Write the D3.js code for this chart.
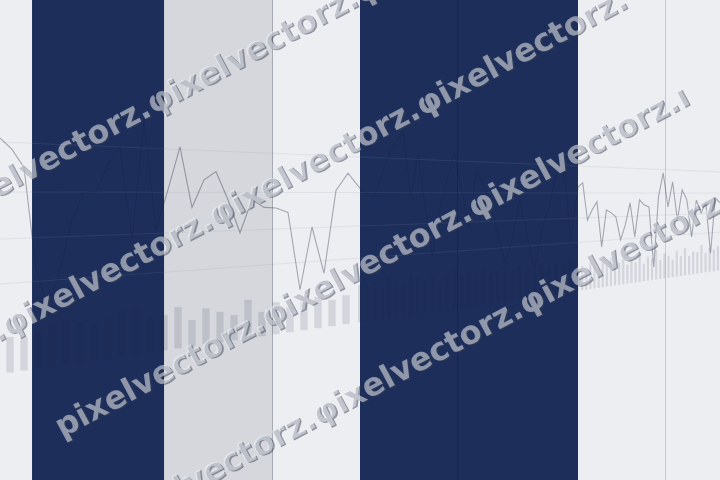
<!DOCTYPE html>
<html>
<head>
<meta charset="utf-8">
<script src="https://cdn.jsdelivr.net/npm/d3@7/dist/d3.min.js"></script>
<style>
html,body{margin:0;padding:0;background:#edeef2;}
svg{display:block;}
</style>
</head>
<body>
<svg id="chart" width="720" height="480"></svg>
<script>
// ---------------- data ----------------
const lineValues = [236,225,207,102,62,100,152,182,182,212,232,129,264,139,185,235,164,197,207,173,132,173,163,162,156,54,136,73,185,209,188,
179,176,207,237,259,270,176,242,156,84,160,202,245,186,122,219,195,165,112,64,107,170,109,47,116,157,214,242,95,193,
201,131,150,165,78,149,143,135,89,118,162,93,168,157,153,27,174,225,152,206,123,189,167,84,166,137,160,43,171,159];
const barValues = [36,34,40,45,47,43,42,44,51,53,39,41,48,31,43,37,31,48,31,41,33,37,42,36,40,
52,48,55,44,58,50,46,60,53,49,57,45,51,62,48,55,50,58,47,53,60,49,56,52,45,58,51,54,48,57,
38,45,33,50,42,36,48,40,55,35,44,52,38,47,41,58,36,50,45,62,40,53,47,38,56,44,60,42,51,48,64,45,55,50,58,47];
const gridValues = [90,135,182,232];
const navyPeriods = [[2.67,13.67],[30,60]];
const grayPeriods = [[13.67,22.67]];
const markerIndices = [22.67,43.35,78.38];
const watermarkWord = ["pixelvectorz.","φixelvectorz."];

// ---------------- scales ----------------
const W = 720, H = 480;
const svg = d3.select("#chart");
const x = d3.scaleLinear().domain([0,30,60,90]).range([0,360,578,720]);
const xb = d3.scaleLinear().domain([0,25,55,90]).range([10,360,578,722]);
const base = d3.scaleLinear().domain([0,W]).range([374,270.3]);
const depth = d3.scaleLinear().domain([0,W]).range([1,0.424]);
const v = d3.scaleLinear().domain([0,100]).range([0,100]);
const proj = (val, px) => base(px) - v(val)*depth(px);

// masks: chart marks are dimmed inside the navy periods
const defs = svg.append("defs");
function makeMask(id, level){
  const m = defs.append("mask").attr("id",id).attr("maskUnits","userSpaceOnUse")
    .attr("x",0).attr("y",0).attr("width",W).attr("height",H);
  m.append("rect").attr("width",W).attr("height",H).attr("fill","#fff");
  m.selectAll("rect.n").data(navyPeriods).join("rect").attr("class","n")
    .attr("x",d=>x(d[0])).attr("width",d=>x(d[1])-x(d[0])).attr("y",0).attr("height",H)
    .attr("fill",d3.rgb(255*level,255*level,255*level).formatHex());
}
makeMask("mLine",0.35);
makeMask("mBar",0.55);

// background
svg.append("rect").attr("width",W).attr("height",H).attr("fill","#edeef2");
svg.selectAll("rect.gray").data(grayPeriods).join("rect").attr("class","gray")
  .attr("x",d=>x(d[0])).attr("width",d=>x(d[1])-x(d[0])).attr("y",0).attr("height",H).attr("fill","#d5d7dc");
svg.selectAll("rect.navy").data(navyPeriods).join("rect").attr("class","navy")
  .attr("x",d=>x(d[0])).attr("width",d=>x(d[1])-x(d[0])).attr("y",0).attr("height",H).attr("fill","#1d2e5b");

// gridlines
svg.selectAll("line.grid").data(gridValues).join("line").attr("class","grid")
  .attr("x1",0).attr("x2",W).attr("y1",d=>proj(d,0)).attr("y2",d=>proj(d,W))
  .attr("stroke","#8a93aa").attr("stroke-opacity",0.15).attr("stroke-width",1);

// vertical marker lines
svg.append("g").style("mix-blend-mode","multiply")
  .selectAll("line.mark").data(markerIndices).join("line").attr("class","mark")
  .attr("x1",d=>Math.round(x(d))+0.5).attr("x2",d=>Math.round(x(d))+0.5).attr("y1",0).attr("y2",H)
  .attr("stroke",(d,i)=>i===0?"#b4b7bd":(i===1?"#c8cad0":"#d6d8dc")).attr("stroke-width",1);

// bars
const bw = i => {
  const s = i < barValues.length-1 ? xb(i+1)-xb(i) : xb(i)-xb(i-1);
  return s*0.52;
};
svg.append("g").attr("mask","url(#mBar)").style("mix-blend-mode","multiply")
  .selectAll("rect.bar").data(barValues).join("rect").attr("class","bar")
  .attr("x",(d,i)=>xb(i)-bw(i)/2).attr("width",(d,i)=>bw(i))
  .attr("y",(d,i)=>proj(d,xb(i))).attr("height",(d,i)=>base(xb(i))-proj(d,xb(i)))
  .attr("fill","#e3e4e8");

// line
const lineGen = d3.line().x((d,i)=>x(i)).y((d,i)=>proj(d,x(i)));
svg.append("g").attr("mask","url(#mLine)").style("mix-blend-mode","multiply")
  .append("path").datum(lineValues).attr("d",lineGen)
  .attr("fill","none").attr("stroke","#b0b3bb").attr("stroke-width",1.1);

// watermark
const wm = svg.append("g").attr("class","watermark")
  .style("font-family","'DejaVu Sans', Verdana, sans-serif").style("font-weight","bold").style("font-size","32px");
const lines = [
  {x:-52, y:224, words:3, at:0},
  {x:8, y:337, words:4, at:1},
  {x:62, y:438, words:3, at:0, tail:"ı"},
  {x:113, y:535, words:3, at:0}
];
lines.forEach(L=>{
  let txt = watermarkWord[0];
  for (let k=1;k<L.words;k++) txt += watermarkWord[1];
  if (L.tail) txt += L.tail;
  const g = wm.append("g").attr("transform",`translate(${L.x},${L.y}) rotate(-28)`);
  const sh = g.append("text").text(txt).attr("x",1.2).attr("y",1.6)
    .attr("fill","rgba(55,62,80,0.5)");
  const mt = g.append("text").text(txt).attr("fill","rgba(236,239,246,0.53)");
  if (L.at>0) {
    const off = mt.node().getSubStringLength(0, watermarkWord[0].length);
    sh.attr("x",1.2-off); mt.attr("x",-off);
  }
});
</script>
</body>
</html>
